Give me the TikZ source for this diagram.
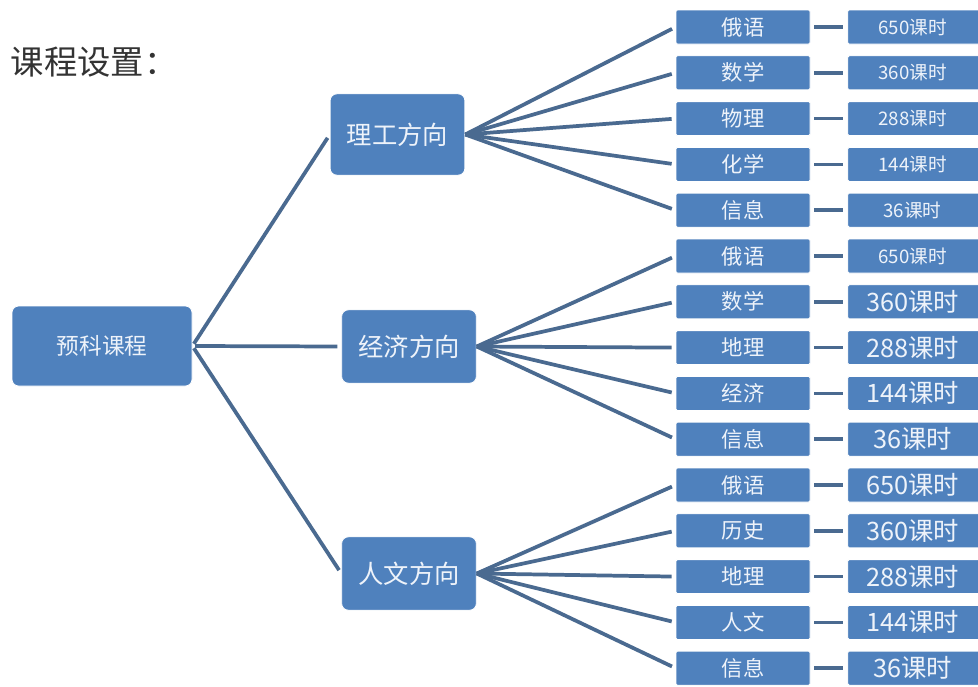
\documentclass[tikz,border=0pt]{standalone}
\usepackage{fontspec}
\newfontfamily\cjk{Noto Sans CJK SC}
\definecolor{boxblue}{HTML}{4F81BD}
\definecolor{linecol}{HTML}{4A6A90}
\definecolor{txt}{HTML}{EEF3FA}
\definecolor{titlecol}{HTML}{333333}
\begin{document}
\begin{tikzpicture}[x=0.75pt,y=-0.75pt,
  basebox/.style={fill=boxblue, draw=white, line width=0.6pt, text=txt, inner sep=0pt},
  rootbox/.style={basebox, rounded corners=5pt, minimum width=135pt, minimum height=60pt, font=\cjk\fontsize{17}{17}\selectfont},
  midbox/.style={basebox, rounded corners=5pt, minimum width=101pt, font=\cjk\fontsize{19}{19}\selectfont},
  leafbox/.style={basebox, rounded corners=1pt, minimum width=100.5pt, minimum height=25.5pt, font=\cjk\fontsize{16}{16}\selectfont},
  hourbox/.style={basebox, rounded corners=1pt, minimum width=103pt, minimum height=25.5pt},
  hsmall/.style={font=\cjk\fontsize{14}{14}\selectfont},
  hlarge/.style={font=\cjk\fontsize{19}{19}\selectfont},
  conn/.style={draw=linecol, line width=2.8pt},
  dashconn/.style={draw=linecol, line width=2.8pt, shorten <=3pt, shorten >=3pt}
]
\useasboundingbox (0,0) rectangle (978,686);
\clip (0,0) rectangle (978,686);
\fill[white] (0,0) rectangle (978,686);

\node[anchor=west, text=titlecol, font=\cjk\fontsize{25}{25}\selectfont] (title) at (6,62) {课程设置：};

\node[rootbox] (root) at (102,346) {预科课程};
\node[midbox, minimum height=61pt] (m1) at (397.5,134.5) {理工方向};
\node[midbox, minimum height=55pt] (m2) at (409,346.5) {经济方向};
\node[midbox, minimum height=55pt] (m3) at (409,573.5) {人文方向};

\draw[conn, shorten <=2pt, shorten >=3pt] (root.east) -- (m1.west);
\draw[conn, shorten <=2pt, shorten >=3pt] (root.east) -- (m2.west);
\draw[conn, shorten <=2pt, shorten >=3pt] (root.east) -- (m3.west);

\foreach \i/\subj/\hrs/\hs/\grp in {
  0/俄语/650课时/hsmall/m1, 1/数学/360课时/hsmall/m1, 2/物理/288课时/hsmall/m1, 3/化学/144课时/hsmall/m1, 4/信息/36课时/hsmall/m1,
  5/俄语/650课时/hsmall/m2, 6/数学/360课时/hlarge/m2, 7/地理/288课时/hlarge/m2, 8/经济/144课时/hlarge/m2, 9/信息/36课时/hlarge/m2,
  10/俄语/650课时/hlarge/m3, 11/历史/360课时/hlarge/m3, 12/地理/288课时/hlarge/m3, 13/人文/144课时/hlarge/m3, 14/信息/36课时/hlarge/m3}
{
  \node[leafbox] (l\i) at (743,27+45.8*\i) {\subj};
  \node[hourbox, \hs] (h\i) at (916.5,27+45.8*\i) {\hspace*{-6pt}\hrs};
  \draw[conn, shorten >=3pt] (\grp.east) -- (l\i.west);
  \draw[dashconn] (l\i.east) -- (h\i.west);
}
\end{tikzpicture}
\end{document}
